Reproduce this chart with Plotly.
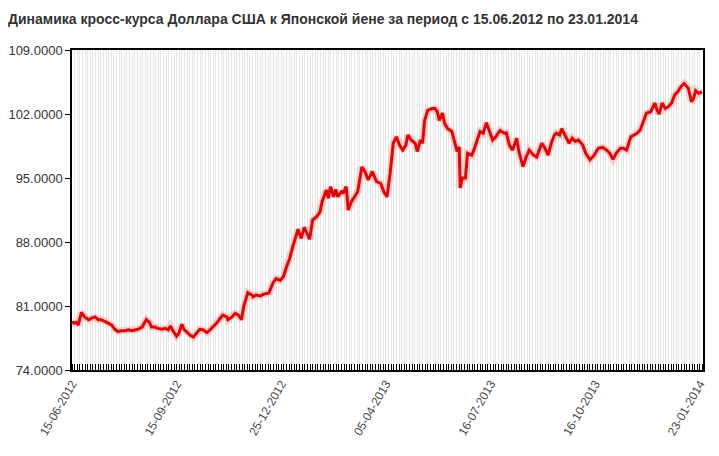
import plotly.graph_objects as go

# position along the x axis (100 units between neighbouring date labels) and USD/JPY rate
pos = [0, 2, 4, 6, 9, 12, 16, 19, 22, 25, 28, 32, 35, 38, 41, 44, 47, 51, 54, 57,
       60, 63, 67, 71, 74, 76, 79, 82, 86, 89, 92, 94, 97, 100, 102, 105, 107, 110, 113, 116,
       119, 122, 125, 129, 132, 135, 138, 141, 144, 148, 149, 153, 156, 159, 162, 164, 165, 168, 172, 173,
       176, 180, 183, 188, 192, 195, 199, 202, 205, 208, 211, 214, 216, 219, 222, 227, 230, 234, 237, 239,
       243, 245, 247, 250, 252, 254, 258, 259, 262, 264, 267, 270, 273, 277, 280, 283, 287, 291, 295, 298,
       301, 304, 307, 310, 313, 316, 319, 321, 324, 328, 330, 333, 335, 337, 340, 344, 347, 349, 351, 354,
       356, 359, 363, 366, 368, 370, 371, 373, 376, 378, 382, 384, 387, 390, 393, 396, 399, 402, 405, 409,
       413, 415, 418, 421, 425, 427, 431, 434, 437, 441, 444, 449, 452, 455, 458, 461, 463, 466, 468, 472,
       475, 478, 481, 484, 488, 491, 495, 499, 503, 507, 511, 514, 517, 520, 524, 527, 530, 534, 537, 540,
       543, 546, 549, 553, 557, 559, 561, 564, 567, 570, 573, 576, 579, 582, 585, 589, 592, 594, 596, 599,
       602]
rate = [79.3, 79.1, 79.2, 78.9, 80.3, 79.8, 79.5, 79.7, 79.8, 79.5, 79.5, 79.3, 79.1, 78.9, 78.45, 78.2, 78.3, 78.3, 78.4, 78.3,
        78.4, 78.45, 78.7, 79.5, 79.2, 78.7, 78.7, 78.55, 78.45, 78.55, 78.4, 78.8, 78.2, 77.7, 78.0, 79.0, 78.45, 78.1, 77.8, 77.6,
        78.0, 78.45, 78.4, 78.1, 78.4, 78.7, 79.1, 79.55, 80.0, 79.8, 79.5, 79.8, 80.2, 80.0, 79.5, 80.9, 81.3, 82.45, 82.2, 82.0,
        82.2, 82.1, 82.3, 82.4, 83.5, 84.0, 83.8, 84.2, 85.3, 86.2, 87.5, 88.65, 89.4, 88.4, 89.6, 88.3, 90.4, 90.8, 91.3, 92.4,
        93.7, 92.8, 94.05, 92.95, 93.75, 92.95, 93.6, 93.3, 94.05, 91.5, 92.4, 92.95, 93.5, 96.2, 95.7, 94.8, 95.7, 94.6, 94.4, 93.5,
        92.95, 95.5, 98.8, 99.5, 98.6, 98.05, 98.6, 99.7, 99.15, 98.8, 97.9, 99.15, 98.8, 101.3, 102.4, 102.6, 102.6, 102.25, 101.3, 102.1,
        101.0, 100.4, 100.1, 98.8, 97.9, 98.4, 93.9, 95.0, 95.0, 97.7, 97.5, 98.05, 99.15, 100.1, 99.9, 101.05, 100.1, 99.15, 99.5, 100.2,
        99.9, 99.95, 98.6, 98.05, 99.35, 97.9, 96.25, 97.3, 98.05, 97.5, 97.3, 98.8, 98.25, 97.5, 98.8, 99.7, 99.9, 99.7, 100.4, 99.5,
        98.8, 99.35, 99.0, 99.15, 98.6, 97.7, 97.0, 97.5, 98.25, 98.35, 98.05, 97.7, 97.05, 97.7, 98.25, 98.25, 98.05, 99.5, 99.7, 99.9,
        100.25, 101.15, 102.1, 102.25, 103.2, 102.45, 102.0, 103.2, 102.6, 102.8, 103.2, 104.1, 104.45, 105.0, 105.35, 104.8, 103.35, 103.7, 104.55, 104.25,
        104.45]

date_ticks = [0, 100, 200, 300, 400, 500, 600]
date_labels = ["15-06-2012", "15-09-2012", "25-12-2012", "05-04-2013",
               "16-07-2013", "16-10-2013", "23-01-2014"]
rate_ticks = [74, 81, 88, 95, 102, 109]

fig = go.Figure()
# soft pink halo under the line
fig.add_trace(go.Scatter(x=pos, y=rate, mode="lines",
                         line=dict(color="rgba(255,120,120,0.35)", width=7),
                         hoverinfo="skip", showlegend=False))
fig.add_trace(go.Scatter(x=pos, y=rate, mode="lines",
                         line=dict(color="#d80b0b", width=3),
                         name="USD/JPY", showlegend=False))

# the page puts an 8px body margin round the figure, so the sizes allow for it
fig.update_layout(
    width=703, height=440,
    margin=dict(l=64, r=8, t=42, b=78),
    paper_bgcolor="white", plot_bgcolor="white",
    font=dict(family="Liberation Sans, Arial, sans-serif", color="#333333"),
    title=dict(text="<b>Динамика кросс-курса Доллара США к Японской йене за период с 15.06.2012 по 23.01.2014</b>",
               x=0.0, xanchor="left", y=0.975, yanchor="middle",
               font=dict(size=14, color="#333333")),
    xaxis=dict(range=[0, 603], tickvals=date_ticks, ticktext=date_labels,
               tickangle=-60, tickfont=dict(size=12, color="#4a4a4a"),
               ticks="", showgrid=False, zeroline=False, automargin=False,
               showline=True, linecolor="black", linewidth=2, mirror=True,
               minor=dict(dtick=2.5, tick0=0, ticks="inside", ticklen=6,
                          tickcolor="black", tickwidth=1.4,
                          showgrid=True, gridcolor="#e6e6e6", gridwidth=1)),
    yaxis=dict(range=[74, 109], tickvals=rate_ticks, tickformat=".4f",
               tickfont=dict(size=13, color="#333333"), automargin=False,
               ticks="outside", ticklen=5, tickcolor="black",
               showgrid=False, zeroline=False,
               showline=True, linecolor="black", linewidth=1.5, mirror=True),
)

fig.write_html("out.html")
